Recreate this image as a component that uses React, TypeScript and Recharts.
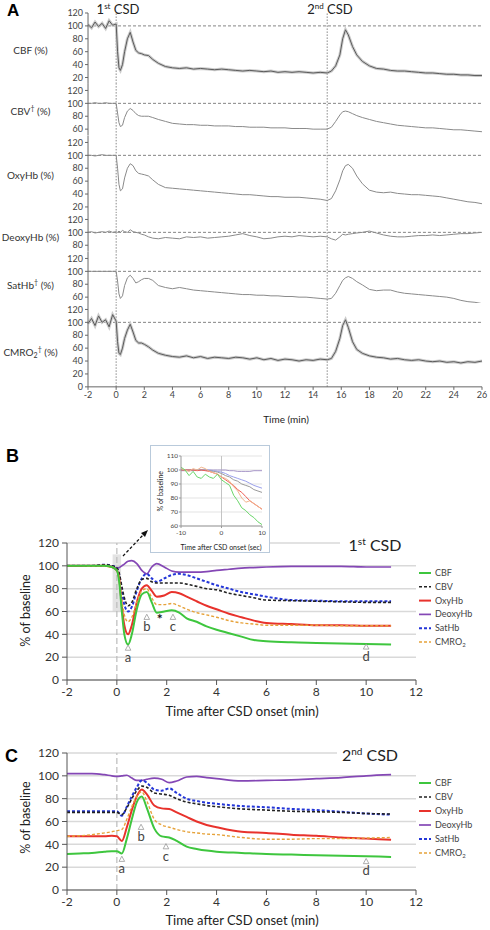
import React from "react";
import {
  LineChart,
  Line,
  XAxis,
  YAxis,
  CartesianGrid,
  ReferenceLine,
  ReferenceArea,
  ReferenceDot,
} from "recharts";

const FONT = "Lato, 'Open Sans', sans-serif";

// ---------- A: raw traces, % of baseline, two CSDs ----------
const timeA = [
  -2, -1.75, -1.5, -1.25, -1, -0.75, -0.5, -0.25,
  0, 0.1, 0.2, 0.3, 0.45, 0.6, 0.8,
  1.0, 1.2, 1.4, 1.6, 1.8,
  2.0, 2.3, 2.6,
  3.0, 3.5,
  4, 4.5, 5, 5.5, 6, 6.5, 7, 7.5, 8, 8.5, 9, 9.5, 10, 10.5, 11, 11.5, 12, 12.5, 13, 13.5, 14, 14.5,
  15, 15.3, 15.6, 15.9, 16.1, 16.3, 16.5, 16.8, 17.1, 17.5,
  18, 18.5, 19, 19.5, 20, 20.5, 21, 21.5, 22, 22.5, 23, 23.5, 24, 24.5, 25, 25.5, 26,
];
const cbfA = [
  102, 97, 106, 99, 104, 96, 108, 101,
  103, 60, 35, 31, 40, 60, 80,
  90, 75, 62, 58, 57,
  55, 54, 48,
  42, 37,
  35, 34, 35, 33, 34, 33, 32, 33, 32, 31, 30, 31, 30, 29, 30, 28, 29, 28, 29, 28, 27, 28,
  27, 30, 38, 55, 80, 94, 86, 68, 55, 45,
  38, 34, 33, 31, 30, 30, 29, 28, 27, 27, 26, 25, 25, 24, 24, 23, 23,
];
const cbvA = [
  100, 100, 101, 100, 100, 101, 100, 100,
  100, 85, 70, 64, 66, 78, 88,
  92, 89, 84, 81, 80,
  80, 80, 78,
  75, 72,
  69, 68, 67, 67, 66, 66, 65, 65, 65, 64, 64, 63, 63, 63, 62, 62, 62, 61, 61, 61, 60, 60,
  60, 63, 72, 82, 87, 88, 87, 84, 81, 78,
  75, 72, 70, 68, 66, 65, 64, 63, 62, 62, 61, 60, 59, 59, 58, 57, 56,
];
const oxyA = [
  100, 100, 99, 100, 101, 100, 100, 100,
  100, 80, 55, 45, 48, 65, 80,
  87, 84, 76, 72, 71,
  70, 68, 62,
  55, 50,
  49, 48, 47, 46, 45, 44, 43, 42, 41, 40, 39, 39, 38, 37, 36, 36, 35, 35, 35, 34, 33, 32,
  30, 33, 45, 62, 76, 84, 86, 80, 68, 56,
  46, 43, 42, 43, 41, 40, 39, 39, 38, 37, 36, 34, 32, 30, 28, 27, 25,
];
const deoxyA = [
  100, 101, 99, 100, 101, 100, 102, 100,
  101, 100, 102, 100, 103, 101, 100,
  104, 101, 100, 99, 97,
  96, 93, 91,
  90, 92,
  91, 90, 93, 92, 93, 91, 92, 93, 94, 96, 98, 95, 93, 90, 91, 93, 94, 93, 95, 94, 93, 94,
  93, 90, 88, 93, 97, 96, 97, 98, 99, 100,
  102, 99, 96, 94, 93, 93, 94, 95, 95, 96, 95, 96, 97, 98, 98, 99, 100,
];
const satA = [
  100, 100, 100, 100, 100, 100, 100, 100,
  100, 85, 65, 58, 62, 78, 90,
  94, 89, 82, 84, 87,
  89, 89, 86,
  78, 75,
  73, 75, 73, 71, 70, 69, 68, 67, 66, 65, 64, 64, 63, 63, 62, 62, 61, 61, 60, 60, 59, 58,
  57, 58, 66, 78, 86, 90, 92, 89, 84, 79,
  72, 70, 71, 71, 68, 66, 65, 64, 63, 62, 61, 60, 58, 55, 53, 52, 50,
];
const cmroA = [
  98, 106, 95, 110, 100, 104, 93, 112,
  102, 70, 52, 50, 60, 75, 88,
  97, 85, 72, 68, 68,
  66, 62, 57,
  52, 49,
  47, 46, 48, 45, 47, 44, 46, 45, 44, 46, 45, 43, 45, 42, 44, 41, 43, 42, 40, 42, 41, 43,
  42, 44, 55, 75, 95, 104, 92, 70, 58, 52,
  48, 46, 45, 43, 44, 42, 41, 42, 40, 39, 40, 38, 39, 37, 39, 38, 40,
];
const ticksA = [-2, 0, 2, 4, 6, 8, 10, 12, 14, 16, 18, 20, 22, 24, 26];

const STRIPS = [
  { name: "CBF", sub: "", dag: false, values: cbfA, domain: [10, 120], ticks: [20, 40, 60, 80, 100, 120], noisy: true },
  { name: "CBV", sub: "", dag: true, values: cbvA, domain: [50, 130], ticks: [60, 80, 100, 120], noisy: false },
  { name: "OxyHb", sub: "", dag: false, values: oxyA, domain: [10, 130], ticks: [20, 40, 60, 80, 100, 120], noisy: false },
  { name: "DeoxyHb", sub: "", dag: false, values: deoxyA, domain: [70, 130], ticks: [80, 100, 120], noisy: false },
  { name: "SatHb", sub: "", dag: true, values: satA, domain: [50, 130], ticks: [60, 80, 100, 120], noisy: false },
  { name: "CMRO", sub: "2", dag: true, values: cmroA, domain: [0, 130], ticks: [0, 20, 40, 60, 80, 100, 120], noisy: true },
];
const STRIP_LABEL_Y = [50, 108, 175, 237, 282, 349];

// ---------- B: averaged time course, 1st CSD ----------
const timeB = [-2, -1.5, -1, -0.5, -0.2, 0, 0.1, 0.2, 0.3, 0.45, 0.6, 0.8, 1.0, 1.2, 1.4, 1.6, 1.9, 2.2, 2.5, 2.8, 3.2, 3.6, 4, 4.5, 5, 5.5, 6, 7, 8, 9, 10, 11];
const cbfB = [100, 100, 100, 100, 99, 96, 85, 60, 40, 31, 40, 62, 75, 77, 68, 59, 60, 61, 59, 54, 51, 47, 44, 41, 38, 35, 34, 33, 32.5, 32, 31.5, 31];
const cbvB = [100, 100, 100, 101, 100, 98, 93, 82, 72, 65, 68, 80, 88, 89, 86, 85, 85, 85, 85, 84, 82, 80, 79, 76, 74, 72, 70, 69.5, 69, 68.5, 68, 68];
const oxyB = [100, 100, 100, 100, 99, 96, 88, 65, 48, 40, 48, 68, 80, 83, 78, 73, 74, 77, 76, 73, 69, 65, 62, 58, 55, 52, 50, 49, 48, 48, 47.5, 47.5];
const deoxyB = [100, 100, 100, 100, 99.5, 98, 98.5, 100, 101.5, 104, 104.5, 102, 96, 93, 99, 102, 99, 95.5, 94.5, 94.5, 94.5, 95, 96, 97, 98, 98.5, 99, 99.5, 99.5, 99.5, 99, 99];
const satB = [100, 100, 100, 101, 100, 98, 92, 78, 66, 60, 64, 78, 89, 93, 89, 86, 89, 92, 93, 92, 89, 86, 83, 80, 77, 75, 73, 70, 69.5, 69, 69, 69];
const cmroB = [100, 100, 99.5, 99.5, 99, 96, 88, 70, 57, 51, 55, 68, 78, 80, 72, 66, 66, 67, 65, 62, 59, 57, 55, 52, 50, 49, 48, 48, 48, 47.5, 47.5, 47.5];

// ---------- C: averaged time course, 2nd CSD ----------
const timeC = [-2, -1.5, -1, -0.5, -0.2, 0, 0.2, 0.4, 0.6, 0.8, 1.0, 1.2, 1.5, 1.8, 2.1, 2.4, 2.8, 3.2, 3.6, 4, 5, 6, 7, 8, 9, 10, 11];
const cbfC = [31.5, 32, 32.5, 33.5, 34, 34, 32, 45, 62, 77, 82, 72, 54, 47, 46, 43, 38, 36, 34.5, 33.5, 32.5, 31.5, 31, 30.5, 30, 29.5, 29];
const cbvC = [68, 68, 68, 68, 68, 68, 66, 72, 80, 87, 91, 90, 85, 84, 83, 80, 77, 75.5, 74, 73, 71, 70, 69, 68.5, 68, 67, 66.5];
const oxyC = [47, 47, 47, 47, 47.5, 47, 43, 55, 70, 82, 88, 84, 74, 71.5, 71, 68, 64, 60, 57, 55, 51, 50, 48.5, 47.5, 46, 45, 44];
const deoxyC = [102, 102, 102, 101, 100, 99.5, 100, 100.5, 98, 96, 96, 97, 98, 97, 94, 95.5, 99, 99.5, 98.5, 97.5, 95.5, 96, 96.5, 97.5, 98.5, 100, 101];
const satC = [69, 69, 69, 69, 69, 69, 65, 73, 82, 90, 96, 94, 88, 87, 89, 85, 80, 78, 76.5, 75.5, 73.5, 72.5, 71, 70, 68.5, 67, 66];
const cmroC = [47, 47.5, 48.5, 50, 51, 52, 53, 62, 73, 82, 86, 78, 62, 57, 55, 53, 51, 50, 49, 48.5, 46, 44.5, 44.5, 45, 45, 45.5, 46];

// ---------- inset: first seconds around onset (sec) ----------
const timeI = [-10, -9, -8, -7, -6, -5, -4, -3, -2, -1, 0, 1, 2, 3, 4, 5, 6, 7, 8, 9, 10];
const cbfI = [102, 100, 96, 99, 95, 94, 97, 95, 94, 97, 93, 91, 89, 82, 78, 73, 71, 68, 66, 63, 61];
const cmroI = [101, 100, 99, 101, 100, 102, 101, 99, 98, 97, 95, 94, 92, 88, 85, 80, 77, 78, 76, 74, 72];
const oxyI = [100, 100, 100, 100, 99.5, 100, 99.5, 99, 98, 97, 95, 93, 91, 89, 86, 84, 81, 78, 76, 74, 72];
const cbvI = [100, 100, 100, 100, 100, 100, 100, 99.5, 99, 98.5, 97.5, 96, 95, 93, 92, 90, 89, 88, 86, 85, 84];
const satI = [100, 100, 100, 100, 100, 100, 100, 100, 99.5, 99, 98.5, 97.5, 96, 95, 94, 93, 92, 90.5, 89, 88, 87];
const deoxyI = [99.5, 99.5, 99.5, 99.5, 100, 100, 100, 100, 100, 100, 100, 100, 99.5, 99.5, 99, 99, 99, 99, 99.5, 99.5, 99.5];

const ticksBC = [-2, 0, 2, 4, 6, 8, 10, 12];
const ticksPct = [0, 20, 40, 60, 80, 100, 120];

const annB = [
  { t: 0.45, v: 28, text: "a" },
  { t: 1.2, v: 55, text: "b" },
  { t: 2.25, v: 55, text: "c" },
  { t: 10, v: 29, text: "d" },
];
const annC = [
  { t: 0.2, v: 27, text: "a" },
  { t: 0.97, v: 55, text: "b" },
  { t: 1.97, v: 38, text: "c" },
  { t: 10, v: 25, text: "d" },
];

const SERIES = [
  { key: "DeoxyHb", label: "DeoxyHb", sub: "", color: "#8447b5", inset: "#a796c8", dash: undefined, w: 1.7 },
  { key: "SatHb", label: "SatHb", sub: "", color: "#2436d8", inset: "#9aa0ec", dash: "3 2", w: 2 },
  { key: "CBV", label: "CBV", sub: "", color: "#222222", inset: "#9a9a9a", dash: "3 2", w: 1.6 },
  { key: "OxyHb", label: "OxyHb", sub: "", color: "#e8322c", inset: "#ef5d55", dash: undefined, w: 2 },
  { key: "CMRO2", label: "CMRO", sub: "2", color: "#e6a23a", inset: "#f2b58c", dash: "3 2", w: 1.4 },
  { key: "CBF", label: "CBF", sub: "", color: "#3ec63e", inset: "#6ad66a", dash: undefined, w: 2 },
];
const LEGEND_ORDER = ["CBF", "CBV", "OxyHb", "DeoxyHb", "SatHb", "CMRO2"];

const rowsB = timeB.map((t, i) => ({ t, CBF: cbfB[i], CBV: cbvB[i], OxyHb: oxyB[i], DeoxyHb: deoxyB[i], SatHb: satB[i], CMRO2: cmroB[i] }));
const rowsC = timeC.map((t, i) => ({ t, CBF: cbfC[i], CBV: cbvC[i], OxyHb: oxyC[i], DeoxyHb: deoxyC[i], SatHb: satC[i], CMRO2: cmroC[i] }));
const rowsI = timeI.map((t, i) => ({ t, CBF: cbfI[i], CBV: cbvI[i], OxyHb: oxyI[i], DeoxyHb: deoxyI[i], SatHb: satI[i], CMRO2: cmroI[i] }));

const abs = (left: number, top: number, extra: any = {}) => ({ position: "absolute" as const, left, top, ...extra });

function Caption({ cx, cy, size, children, bold = false, bg }: any) {
  return (
    <div style={abs(cx - 100, cy - size * 0.62, { width: 200, textAlign: "center", fontSize: size, lineHeight: 1.2, color: "#222", fontWeight: bold ? 700 : 400, whiteSpace: "nowrap" })}>
      <span style={{ background: bg }}>{children}</span>
    </div>
  );
}

function VCaption({ cx, cy, size, children }: any) {
  return (
    <div style={abs(cx - 60, cy - size * 0.62, { width: 120, textAlign: "center", fontSize: size, lineHeight: 1.2, color: "#222", transform: "rotate(-90deg)", whiteSpace: "nowrap" })}>
      {children}
    </div>
  );
}

// ---------- panel A strips ----------
const K = 0.645;
const A_TOP = 13;

function Strip({ s, plotTop, first, last }: any) {
  const plotH = (s.domain[1] - s.domain[0]) * K;
  const mt = first ? 8 : 0;
  const xh = last ? 20 : 0;
  const data = timeA.map((t, i) => ({ t, v: s.values[i] }));
  return (
    <div style={abs(0, plotTop - mt)}>
      <LineChart width={490} height={plotH + mt + xh} data={data} margin={{ top: mt, right: 8, bottom: 0, left: 0 }}>
        <XAxis
          dataKey="t"
          type="number"
          domain={[-2, 26]}
          ticks={ticksA}
          interval={0}
          hide={!last}
          height={20}
          tick={{ fontSize: 9, fill: "#444", fontFamily: FONT }}
          tickSize={3}
          axisLine={{ stroke: "#666" }}
          tickLine={{ stroke: "#666" }}
        />
        <YAxis
          type="number"
          domain={s.domain}
          ticks={s.ticks}
          interval={0}
          width={88}
          tick={{ fontSize: 9, fill: "#444", fontFamily: FONT }}
          tickSize={3}
          tickMargin={2}
          axisLine={{ stroke: "#666" }}
          tickLine={{ stroke: "#666" }}
        />
        <ReferenceLine y={100} stroke="#777" strokeDasharray="3 2" strokeWidth={0.9} />
        <ReferenceLine x={0} stroke="#888" strokeDasharray="1.5 1.5" />
        <ReferenceLine x={15} stroke="#888" strokeDasharray="1.5 1.5" />
        {s.noisy && (
          <Line type="linear" dataKey="v" stroke="#cccccc" strokeWidth={3} dot={false} isAnimationActive={false} />
        )}
        <Line
          type="linear"
          dataKey="v"
          stroke={s.noisy ? "#5a5a5a" : "#8a8a8a"}
          strokeWidth={1}
          dot={false}
          isAnimationActive={false}
        />
      </LineChart>
    </div>
  );
}

function StripLabel({ s, cy }: any) {
  return (
    <div style={abs(0, cy - 7, { width: 61, textAlign: "center", fontSize: 10, lineHeight: "14px", color: "#333", whiteSpace: "nowrap" })}>
      {s.name}
      {s.sub && <sub style={{ fontSize: 7, verticalAlign: "-2px" }}>{s.sub}</sub>}
      {s.dag && <sup style={{ fontSize: 7, verticalAlign: "4px" }}>†</sup>}
      {" (%)"}
    </div>
  );
}

// ---------- panels B and C ----------
const markShape = (text: string) => (p: any) => (
  <g>
    <path
      d={`M${p.cx},${p.cy - 3} L${p.cx + 2.8},${p.cy + 2.2} L${p.cx - 2.8},${p.cy + 2.2} Z`}
      fill="none"
      stroke="#999"
      strokeWidth={0.8}
    />
    <text x={p.cx} y={p.cy + 14} textAnchor="middle" fontSize={13} fill="#444" fontFamily={FONT}>
      {text}
    </text>
  </g>
);
const starShape = (p: any) => (
  <text x={p.cx} y={p.cy + 6} textAnchor="middle" fontSize={14} fontWeight={700} fill="#111" fontFamily={FONT}>
    *
  </text>
);

function TimeCourse({ top, data, ann, star, shade }: any) {
  return (
    <div style={abs(0, top - 8)}>
      <LineChart width={490} height={8 + 137 + 24} data={data} margin={{ top: 8, right: 74, bottom: 0, left: 0 }}>
        <CartesianGrid vertical={false} stroke="#d9d9d9" strokeWidth={1.5} />
        <XAxis
          dataKey="t"
          type="number"
          domain={[-2, 12]}
          ticks={ticksBC}
          interval={0}
          height={24}
          tick={{ fontSize: 12, fill: "#333", fontFamily: FONT }}
          tickSize={5}
          axisLine={{ stroke: "#555" }}
          tickLine={{ stroke: "#555" }}
        />
        <YAxis
          type="number"
          domain={[0, 120]}
          ticks={ticksPct}
          interval={0}
          width={67}
          tick={{ fontSize: 12, fill: "#333", fontFamily: FONT }}
          tickSize={5}
          tickMargin={3}
          axisLine={{ stroke: "#555" }}
          tickLine={{ stroke: "#555" }}
        />
        {shade && <ReferenceArea x1={-0.17} x2={0.17} y1={60} y2={110} fill="#d0d0d0" fillOpacity={0.6} stroke="none" />}
        <ReferenceLine x={0} stroke="#bbb" strokeDasharray="6 3" strokeWidth={1.2} />
        {SERIES.map((s) => (
          <Line
            key={s.key}
            type="monotone"
            dataKey={s.key}
            stroke={s.color}
            strokeWidth={s.w}
            strokeDasharray={s.dash}
            dot={false}
            isAnimationActive={false}
          />
        ))}
        {ann.map((a: any) => (
          <ReferenceDot key={a.text} x={a.t} y={a.v} r={0} shape={markShape(a.text)} />
        ))}
        {star && <ReferenceDot x={star.t} y={star.v} r={0} shape={starShape} />}
      </LineChart>
    </div>
  );
}

function SeriesLegend({ top, step }: any) {
  return (
    <svg style={abs(412, top - 8)} width={78} height={step * 6 + 10}>
      {LEGEND_ORDER.map((k, i) => {
        const s = SERIES.find((x) => x.key === k)!;
        const y = 8 + i * step;
        return (
          <g key={k}>
            <line x1={7} x2={19} y1={y} y2={y} stroke={s.color} strokeWidth={s.w} strokeDasharray={s.dash} />
            <text x={23} y={y + 3} fontSize={9} fill="#444" fontFamily={FONT}>
              {s.label}
              {s.sub && (
                <tspan fontSize={6} dy={2}>
                  {s.sub}
                </tspan>
              )}
            </text>
          </g>
        );
      })}
    </svg>
  );
}

function Inset() {
  return (
    <div style={abs(150, 445, { width: 120, height: 108, border: "1px solid #b9cadb", boxSizing: "border-box", background: "#fff" })}>
      <LineChart width={118} height={106} data={rowsI} margin={{ top: 10, right: 7, bottom: 0, left: 0 }}>
        <CartesianGrid vertical={false} stroke="#e3e3e3" />
        <XAxis
          dataKey="t"
          type="number"
          domain={[-10, 10]}
          ticks={[-10, 0, 10]}
          interval={0}
          height={26}
          tick={{ fontSize: 6.5, fill: "#444", fontFamily: FONT }}
          tickSize={2}
          axisLine={{ stroke: "#999" }}
          tickLine={{ stroke: "#999" }}
        />
        <YAxis
          type="number"
          domain={[60, 110]}
          ticks={[60, 70, 80, 90, 100, 110]}
          interval={0}
          width={30}
          tick={{ fontSize: 6.5, fill: "#444", fontFamily: FONT }}
          tickSize={2}
          tickMargin={1}
          axisLine={{ stroke: "#999" }}
          tickLine={{ stroke: "#999" }}
        />
        <ReferenceLine x={0} stroke="#c4c4c4" />
        {SERIES.map((s) => (
          <Line key={s.key} type="linear" dataKey={s.key} stroke={s.inset} strokeWidth={1} dot={false} isAnimationActive={false} />
        ))}
      </LineChart>
    </div>
  );
}

export default function App() {
  const tops: number[] = [];
  let acc = A_TOP;
  STRIPS.forEach((s) => {
    tops.push(acc);
    acc += (s.domain[1] - s.domain[0]) * K;
  });

  return (
    <div style={abs(0, 0, { width: 490, height: 930, background: "#fff", fontFamily: FONT, overflow: "hidden" })}>
      {/* ----- A ----- */}
      <div style={abs(7, 1, { fontSize: 17, fontWeight: 700, fontFamily: "'Liberation Sans', Arial, sans-serif" })}>A</div>
      {STRIPS.map((s, i) => (
        <Strip key={s.name} s={s} plotTop={tops[i]} first={i === 0} last={i === STRIPS.length - 1} />
      ))}
      {STRIPS.map((s, i) => (
        <StripLabel key={s.name} s={s} cy={STRIP_LABEL_Y[i]} />
      ))}
      <Caption cx={118} cy={10} size={13}>
        1<sup style={{ fontSize: 8, verticalAlign: "5px" }}>st</sup> CSD
      </Caption>
      <Caption cx={330} cy={10} size={13}>
        2<sup style={{ fontSize: 8, verticalAlign: "5px" }}>nd</sup> CSD
      </Caption>
      <Caption cx={286} cy={419} size={10}>
        Time (min)
      </Caption>

      {/* ----- B ----- */}
      <div style={abs(6, 446, { fontSize: 18, fontWeight: 700, fontFamily: "'Liberation Sans', Arial, sans-serif" })}>B</div>
      <TimeCourse top={543} data={rowsB} ann={annB} star={{ t: 1.72, v: 54 }} shade />
      <div style={abs(340, 537, { width: 80, height: 12, background: "#fff" })} />
      <Caption cx={375} cy={545} size={16}>
        1<sup style={{ fontSize: 10, verticalAlign: "6px" }}>st</sup> CSD
      </Caption>
      <SeriesLegend top={573} step={13.8} />
      <VCaption cx={25} cy={611} size={12.5}>
        % of baseline
      </VCaption>
      <Caption cx={242} cy={712} size={13}>
        Time after CSD onset (min)
      </Caption>
      <Inset />
      <VCaption cx={160} cy={491} size={7}>
        % of baseline
      </VCaption>
      <Caption cx={221} cy={547} size={7}>
        Time after CSD onset (sec)
      </Caption>
      <svg style={abs(0, 0, { pointerEvents: "none" })} width={490} height={930}>
        <line x1={123} y1={556} x2={144} y2={534} stroke="#111" strokeWidth={1.3} strokeDasharray="3 2" />
        <path d="M148,530 L141,533 L145,537 Z" fill="#111" />
      </svg>

      {/* ----- C ----- */}
      <div style={abs(5, 746, { fontSize: 18, fontWeight: 700, fontFamily: "'Liberation Sans', Arial, sans-serif" })}>C</div>
      <TimeCourse top={753} data={rowsC} ann={annC} />
      <div style={abs(337, 747, { width: 83, height: 12, background: "#fff" })} />
      <Caption cx={370} cy={755} size={16}>
        2<sup style={{ fontSize: 10, verticalAlign: "6px" }}>nd</sup> CSD
      </Caption>
      <SeriesLegend top={783} step={14} />
      <VCaption cx={25} cy={818} size={12.5}>
        % of baseline
      </VCaption>
      <Caption cx={242} cy={921} size={13}>
        Time after CSD onset (min)
      </Caption>
    </div>
  );
}
